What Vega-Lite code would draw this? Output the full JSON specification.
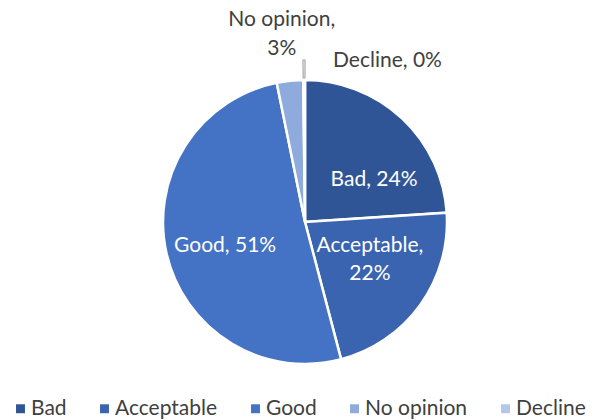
{
  "$schema": "https://vega.github.io/schema/vega-lite/v6.json",
  "width": 590,
  "height": 396,
  "autosize": {"type": "none"},
  "padding": {"left": 10, "top": 24, "right": 0, "bottom": 0},
  "background": "white",
  "config": {"view": {"stroke": null}, "font": "Lato"},
  "data": {
    "values": [
      {"cat": "Bad", "idx": 1, "pct": 24, "label": "Bad, 24%"},
      {"cat": "Acceptable", "idx": 2, "pct": 22, "label": ["Acceptable,", "22%"]},
      {"cat": "Good", "idx": 3, "pct": 51, "label": "Good, 51%"},
      {"cat": "No opinion", "idx": 4, "pct": 3, "label": ["No opinion,", "3%"]},
      {"cat": "Decline", "idx": 5, "pct": 0.2, "label": "Decline, 0%"}
    ]
  },
  "encoding": {
    "theta": {"field": "pct", "type": "quantitative", "stack": true},
    "order": {"field": "idx", "type": "quantitative"}
  },
  "layer": [
    {
      "mark": {"type": "arc", "outerRadius": 142, "stroke": "white", "strokeWidth": 2.5},
      "encoding": {
        "color": {
          "field": "cat",
          "type": "nominal",
          "sort": ["Bad", "Acceptable", "Good", "No opinion", "Decline"],
          "scale": {
            "domain": ["Bad", "Acceptable", "Good", "No opinion", "Decline"],
            "range": ["#2F5597", "#3A64B0", "#4472C4", "#8FAADC", "#B4C7E7"]
          },
          "legend": {
            "title": null,
            "orient": "none",
            "direction": "horizontal",
            "legendX": 0,
            "legendY": 374,
            "symbolType": "square",
            "symbolSize": 80,
            "symbolStrokeWidth": 0,
            "labelFontSize": 21,
            "labelColor": "#404040",
            "labelFont": "Lato",
            "columnPadding": 27,
            "labelOffset": 0
          }
        }
      }
    },
    {
      "mark": {"type": "arc", "innerRadius": 144, "outerRadius": 162, "fillOpacity": 0, "stroke": "#A6A6A6", "strokeWidth": 1.2},
      "encoding": {
        "strokeOpacity": {"condition": {"test": "datum.cat == 'Decline'", "value": 1}, "value": 0}
      }
    },
    {
      "mark": {"type": "text", "radius": 82, "dx": 13, "dy": 18, "fontSize": 21, "fill": "white", "font": "Lato"},
      "encoding": {"text": {"condition": {"test": "datum.cat == 'Bad'", "field": "label"}, "value": ""}}
    },
    {
      "mark": {"type": "text", "radius": 80, "dx": 0, "dy": -23, "fontSize": 21, "fill": "white", "font": "Lato", "lineHeight": 28},
      "encoding": {"text": {"condition": {"test": "datum.cat == 'Acceptable'", "field": "label"}, "value": ""}}
    },
    {
      "mark": {"type": "text", "radius": 82, "dx": 0, "dy": 5, "fontSize": 21, "fill": "white", "font": "Lato"},
      "encoding": {"text": {"condition": {"test": "datum.cat == 'Good'", "field": "label"}, "value": ""}}
    },
    {
      "mark": {"type": "text", "radius": 190, "dx": -3, "dy": -13, "fontSize": 21, "fill": "#404040", "font": "Lato", "lineHeight": 29},
      "encoding": {"text": {"condition": {"test": "datum.cat == 'No opinion'", "field": "label"}, "value": ""}}
    },
    {
      "mark": {"type": "text", "radius": 160, "dx": 29, "dy": -1, "align": "left", "fontSize": 21, "fill": "#404040", "font": "Lato"},
      "encoding": {"text": {"condition": {"test": "datum.cat == 'Decline'", "field": "label"}, "value": ""}}
    }
  ]
}
